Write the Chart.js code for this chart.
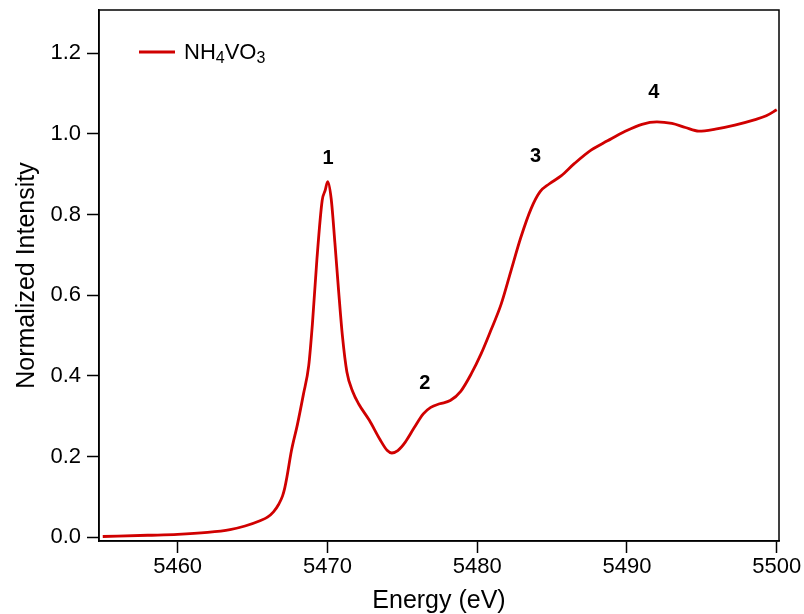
<!DOCTYPE html>
<html>
<head>
<meta charset="utf-8">
<title>NH4VO3 XANES</title>
<script src="https://cdn.jsdelivr.net/npm/chart.js@4.4.1/dist/chart.umd.min.js"></script>
<style>
    body { margin: 0; background: #fff; }
    #wrap { width: 804px; height: 614px; }
</style>
</head>
<body>
<div id="wrap"><canvas id="xanes" width="804" height="614"></canvas></div>
<script>
// V K-edge spectrum of ammonium metavanadate
const energy = [5455.0, 5456, 5458, 5460, 5462, 5463.5, 5464.5, 5465.5, 5466.0, 5466.4,
    5466.75, 5467.0, 5467.15, 5467.3, 5467.6, 5468.0, 5468.4, 5468.75, 5469.0, 5469.3,
    5469.65, 5469.85, 5470.02, 5470.25, 5470.5, 5470.75, 5471.0, 5471.3, 5471.7, 5472.1,
    5472.8, 5473.5, 5474.0, 5474.3, 5474.7, 5475.2, 5475.8, 5476.4, 5476.9, 5477.5,
    5478.2, 5478.9, 5479.6, 5480.25, 5480.9, 5481.6, 5482.25, 5482.9, 5483.6, 5484.2,
    5484.8, 5485.6, 5486.5, 5487.6, 5488.7, 5489.85, 5491.0, 5492.0, 5493.0, 5493.9,
    5494.8, 5495.9, 5497.2, 5498.5, 5499.3, 5500.0];
const intensity = [0.002, 0.003, 0.005, 0.007, 0.012, 0.019, 0.028, 0.041, 0.050, 0.063,
    0.082, 0.102, 0.122, 0.150, 0.215, 0.280, 0.355, 0.425, 0.530, 0.690,
    0.835, 0.860, 0.882, 0.840, 0.730, 0.610, 0.500, 0.410, 0.360, 0.330,
    0.290, 0.243, 0.215, 0.209, 0.215, 0.236, 0.272, 0.306, 0.322, 0.331,
    0.339, 0.362, 0.405, 0.454, 0.512, 0.578, 0.660, 0.742, 0.815, 0.857,
    0.876, 0.896, 0.927, 0.960, 0.983, 1.006, 1.024, 1.030, 1.026, 1.016,
    1.007, 1.012, 1.022, 1.035, 1.045, 1.060];

const xTicks = [5460, 5470, 5480, 5490, 5500];
const yTicks = [0.0, 0.2, 0.4, 0.6, 0.8, 1.0, 1.2];

// numbered features and where their labels sit (eV, intensity)
const peakLabels = ['1', '2', '3', '4'];
const peakEnergies = [5470.05, 5476.5, 5483.9, 5491.8];
const peakLevels = [0.939, 0.381, 0.944, 1.104];

const FONT = "'Liberation Sans', Arial, Helvetica, sans-serif";
const RED = '#d00000';

// frame around the plot area
const boxPlugin = {
    id: 'box',
    afterDraw(chart) {
        const { ctx, chartArea: a } = chart;
        ctx.save();
        ctx.strokeStyle = '#000';
        ctx.lineWidth = 1.5;
        ctx.strokeRect(a.left, a.top, a.right - a.left, a.bottom - a.top);
        ctx.restore();
    }
};

// bold numbers over the spectral features
const peakPlugin = {
    id: 'peaks',
    afterDatasetsDraw(chart) {
        const { ctx, scales } = chart;
        ctx.save();
        ctx.fillStyle = '#000';
        ctx.font = 'bold 20px ' + FONT;
        ctx.textAlign = 'center';
        ctx.textBaseline = 'middle';
        peakLabels.forEach((txt, i) => {
            ctx.fillText(txt, scales.x.getPixelForValue(peakEnergies[i]), scales.y.getPixelForValue(peakLevels[i]));
        });
        ctx.restore();
    }
};

// legend with subscripts (NH4VO3)
const legendPlugin = {
    id: 'subLegend',
    afterDraw(chart) {
        const { ctx, chartArea: a } = chart;
        const x0 = a.left + 40, y0 = a.top + 42;
        ctx.save();
        ctx.strokeStyle = RED;
        ctx.lineWidth = 2.8;
        ctx.beginPath();
        ctx.moveTo(x0, y0);
        ctx.lineTo(x0 + 36, y0);
        ctx.stroke();

        ctx.fillStyle = '#000';
        ctx.textBaseline = 'alphabetic';
        const parts = [['NH', false], ['4', true], ['VO', false], ['3', true]];
        let x = x0 + 45;
        parts.forEach(([t, sub]) => {
            ctx.font = (sub ? '16px ' : '22px ') + FONT;
            ctx.fillText(t, x, sub ? y0 + 11 : y0 + 7);
            x += ctx.measureText(t).width;
        });
        ctx.restore();
    }
};

const ctx = document.getElementById('xanes').getContext('2d');
new Chart(ctx, {
    type: 'line',
    data: {
        datasets: [{
            label: 'NH4VO3',
            data: energy.map((e, i) => ({ x: e, y: intensity[i] })),
            borderColor: RED,
            borderWidth: 2.8,
            pointRadius: 0,
            fill: false,
            cubicInterpolationMode: 'monotone'
        }]
    },
    options: {
        responsive: false,
        animation: false,
        layout: { padding: { top: 10, right: 25, left: 0, bottom: 0 } },
        plugins: {
            legend: { display: false },
            tooltip: { enabled: false }
        },
        scales: {
            x: {
                type: 'linear',
                min: 5454.75,
                max: 5500.15,
                afterBuildTicks: s => { s.ticks = xTicks.map(v => ({ value: v })); },
                afterFit: s => { s.height = 73; },
                grid: { drawOnChartArea: false, tickLength: 12, tickWidth: 1.5, tickColor: '#000' },
                border: { display: true, color: '#000', width: 1.5 },
                ticks: {
                    color: '#000', font: { family: FONT, size: 22 }, padding: 1, maxRotation: 0,
                    callback: v => String(v)
                },
                title: {
                    display: true, text: 'Energy (eV)', color: '#000',
                    font: { family: FONT, size: 25 }, padding: { top: 0, bottom: -2 }
                }
            },
            y: {
                type: 'linear',
                min: -0.0092,
                max: 1.3074,
                afterBuildTicks: s => { s.ticks = yTicks.map(v => ({ value: v })); },
                afterFit: s => { s.width = 99; s.paddingTop = 0; s.paddingBottom = 0; },
                grid: { drawOnChartArea: false, tickLength: 12, tickWidth: 1.5, tickColor: '#000' },
                border: { display: true, color: '#000', width: 1.5 },
                ticks: {
                    color: '#000', font: { family: FONT, size: 22 }, padding: 6,
                    callback: v => v.toFixed(1)
                },
                title: {
                    display: true, text: 'Normalized Intensity', color: '#000',
                    font: { family: FONT, size: 25 }, padding: { top: 12, bottom: 0 }
                }
            }
        }
    },
    plugins: [boxPlugin, peakPlugin, legendPlugin]
});
</script>
</body>
</html>
